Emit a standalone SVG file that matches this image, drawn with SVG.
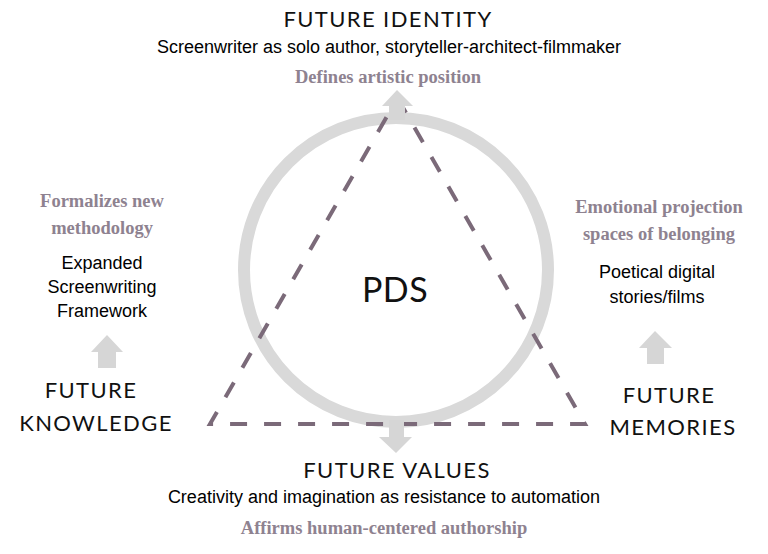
<svg xmlns="http://www.w3.org/2000/svg" width="768" height="554" viewBox="0 0 768 554">
<style>
.h{font-family:Lato,"Open Sans",sans-serif;font-weight:400;font-size:22px;fill:#111;letter-spacing:1.4px;text-anchor:middle}
.b{font-family:"Liberation Sans",Arial,sans-serif;font-size:18px;fill:#000;text-anchor:middle}
.s{font-family:"Liberation Serif","Times New Roman",serif;font-size:18.5px;font-weight:bold;fill:#8e8290;text-anchor:middle}
.arr{fill:#d6d6d6}
</style>
<rect width="768" height="554" fill="#fff"/>
<g id="connectors">
<circle cx="396" cy="270" r="152" fill="none" stroke="#d9d9d9" stroke-width="12"/>
<polygon points="397.5,98 585,424 210,424" fill="none" stroke="#7b6a79" stroke-width="4" stroke-dasharray="17 17" stroke-linejoin="miter"/>
<polygon class="arr" points="397,90 413,106 405,106 405,120 389,120 389,106 382,106"/>
<polygon class="arr" points="389,420 404,420 404,437 412,437 396,453 379,437 389,437"/>
<polygon class="arr" points="107,335 123,352 116,352 116,368 98,368 98,352 91,352"/>
<polygon class="arr" points="655,331 672,348 664,348 664,364 647,364 647,348 639,348"/>
</g>
<g id="pds"><text x="395" y="302" class="h" style="font-size:34px;letter-spacing:0.5px">PDS</text></g>
<g id="identity">
<text x="388" y="27" class="h">FUTURE IDENTITY</text>
<text x="389" y="53" class="b">Screenwriter as solo author, storyteller-architect-filmmaker</text>
<text x="388" y="83" class="s">Defines artistic position</text>
</g>
<g id="knowledge">
<text x="102" y="207" class="s">Formalizes new</text>
<text x="102" y="234" class="s">methodology</text>
<text x="102" y="269" class="b">Expanded</text>
<text x="102" y="293" class="b">Screenwriting</text>
<text x="102" y="317" class="b">Framework</text>
<text x="91" y="398" class="h">FUTURE</text>
<text x="96" y="431" class="h">KNOWLEDGE</text>
</g>
<g id="memories">
<text x="659" y="213" class="s">Emotional projection</text>
<text x="659" y="240" class="s">spaces of belonging</text>
<text x="657" y="278" class="b">Poetical digital</text>
<text x="657" y="303" class="b">stories/films</text>
<text x="669" y="403" class="h">FUTURE</text>
<text x="673" y="435" class="h">MEMORIES</text>
</g>
<g id="values">
<text x="397" y="478" class="h">FUTURE VALUES</text>
<text x="384" y="503" class="b">Creativity and imagination as resistance to automation</text>
<text x="384" y="534" class="s">Affirms human-centered authorship</text>
</g>
</svg>
